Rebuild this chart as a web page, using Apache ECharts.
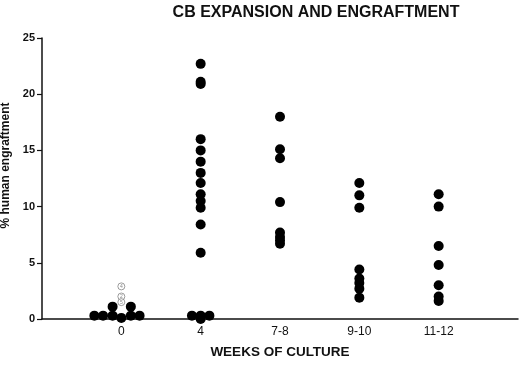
<!DOCTYPE html>
<html>
<head>
<meta charset="utf-8">
<script src="https://cdn.jsdelivr.net/npm/echarts@6/dist/echarts.min.js"></script>
<style>
  html, body { margin: 0; padding: 0; background: #fff; }
  #chart { width: 520px; height: 365px; }
</style>
</head>
<body>
<div id="chart"></div>
<script>
// categories (x position = index)
const weeks = ['0', '4', '7-8', '9-10', '11-12'];
const yTicks = [0, 5, 10, 15, 20, 25];

// each point: [horizontal jitter in category units, % engraftment]
const week0 = [[-0.34, 0.3], [-0.23, 0.3], [-0.11, 0.3], [0, 0.1], [0.12, 0.3], [0.23, 0.3], [-0.11, 1.1], [0.12, 1.1]];
const week4 = [[0, 22.7], [0, 21.1], [0, 20.9], [0, 16.0], [0, 15.0], [0, 14.0], [0, 13.0], [0, 12.1], [0, 11.1], [0, 10.5], [0, 9.9], [0, 8.4], [0, 5.9],
  [-0.11, 0.3], [0, 0.3], [0.11, 0.3], [0, 0]];
const week78 = [[0, 18.0], [0, 15.1], [0, 14.3], [0, 10.4], [0, 7.7], [0, 7.3], [0, 7.0], [0, 6.7]];
const week910 = [[0, 12.1], [0, 11.0], [0, 9.9], [0, 4.4], [0, 3.6], [0, 3.2], [0, 2.7], [0, 1.9]];
const week1112 = [[0, 11.1], [0, 10.0], [0, 6.5], [0, 4.8], [0, 3.0], [0, 2.0], [0, 1.6]];
// small open markers at week 0 (numbered mice)
const week0Open = [[0, 2.9, '4'], [0, 2.0, '2'], [0, 1.5, '5']];

const groups = [week0, week4, week78, week910, week1112];
const filled = [];
groups.forEach((g, i) => g.forEach(p => filled.push([i + p[0], p[1]])));

const chart = echarts.init(document.getElementById('chart'));
chart.setOption({
  animation: false,
  title: {
    text: 'CB EXPANSION AND ENGRAFTMENT',
    left: 311, top: 0, textAlign: 'center',
    textStyle: { fontFamily: 'Liberation Sans', fontSize: 16, fontWeight: 'bold', color: '#111' }
  },
  grid: { left: 42, right: 2, top: 38, bottom: 46, outerBoundsMode: 'none' },
  xAxis: {
    type: 'value', min: -1, max: 5, interval: 1,
    name: 'WEEKS OF CULTURE', nameLocation: 'middle', nameGap: 26,
    nameTextStyle: { fontFamily: 'Liberation Sans', fontSize: 13.5, fontWeight: 'bold', color: '#111' },
    splitLine: { show: false },
    axisTick: { show: false },
    axisLine: { onZero: false, lineStyle: { color: '#111', width: 1.5 } },
    axisLabel: {
      fontFamily: 'Liberation Sans', fontSize: 12, color: '#111', margin: 7,
      formatter: v => (v >= 0 && v < weeks.length ? weeks[v] : '')
    }
  },
  yAxis: {
    type: 'value', min: yTicks[0], max: yTicks[yTicks.length - 1], interval: 5,
    name: '% human engraftment', nameLocation: 'middle', nameGap: 20,
    nameTextStyle: { fontFamily: 'Liberation Sans', fontSize: 12, fontWeight: 'bold', color: '#111', padding: [0, 0, 0, 26] },
    splitLine: { show: false },
    axisLine: { show: true, onZero: false, lineStyle: { color: '#111', width: 1.5 } },
    axisTick: { show: true, length: 5, lineStyle: { color: '#111', width: 1.2 } },
    axisLabel: { fontFamily: 'Liberation Sans', fontSize: 11, fontWeight: 'bold', color: '#111', margin: 7 }
  },
  series: [
    {
      type: 'scatter', data: filled, symbolSize: 10,
      itemStyle: { color: '#000', opacity: 1 }
    },
    {
      type: 'scatter', data: week0Open.map(p => [p[0], p[1], p[2]]), symbolSize: 7, z: 3,
      itemStyle: { color: '#fff', borderColor: '#777', borderWidth: 0.9 },
      label: { show: true, position: 'inside', fontSize: 5, color: '#666', formatter: p => p.value[2] }
    }
  ]
});
</script>
</body>
</html>
